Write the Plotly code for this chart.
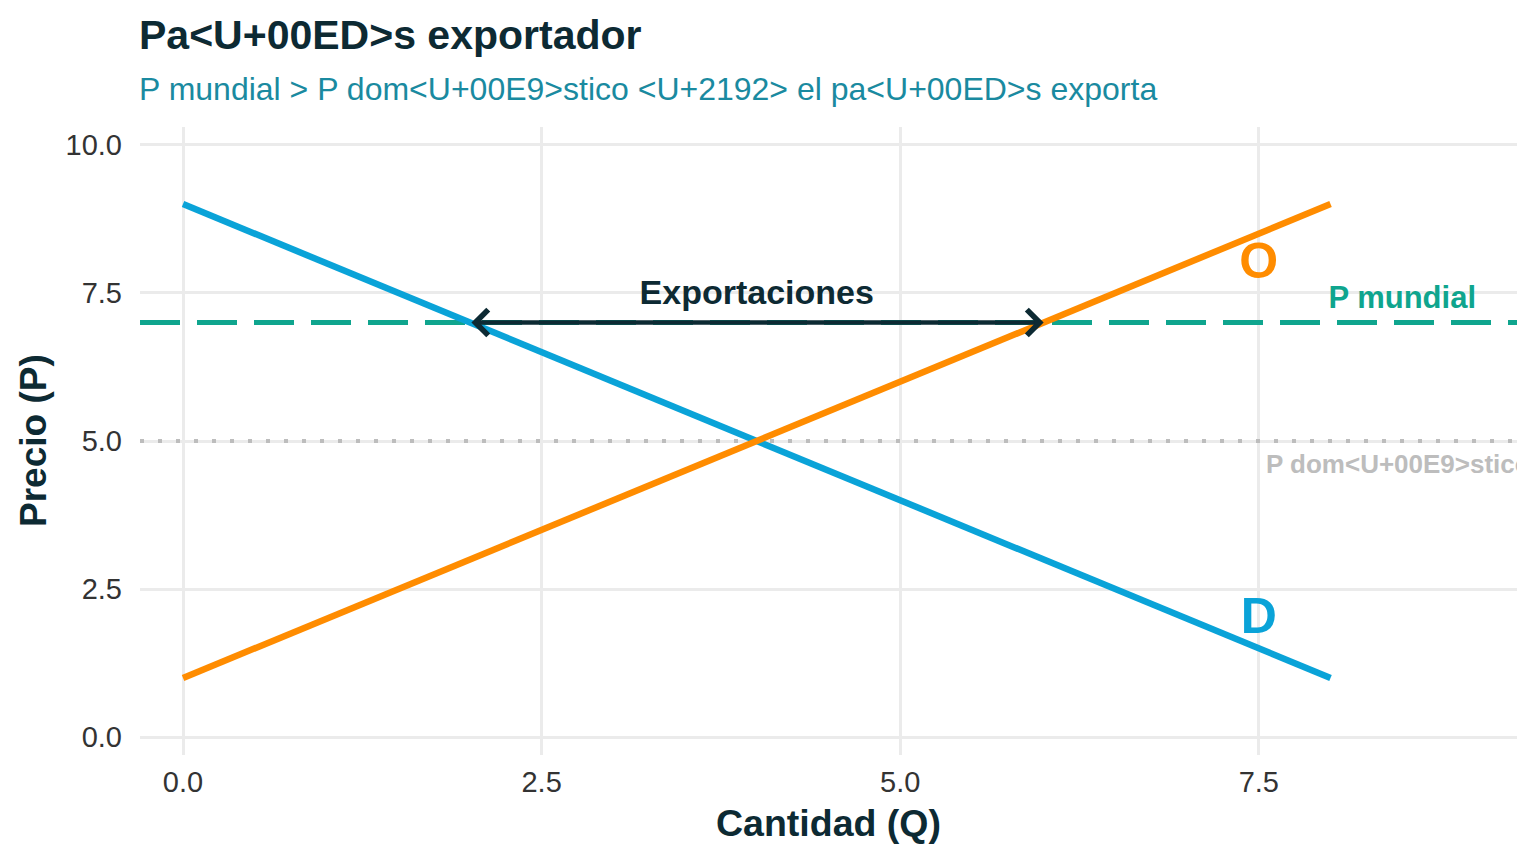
import plotly.graph_objects as go

# data
q_curve = [0, 8]
p_demand = [9, 1]
p_supply = [1, 9]
p_world = 7
p_domestic = 5
q_demand_world = 2
q_supply_world = 6

x_range = [-0.3, 9.3]
y_range = [-0.3, 10.3]
x_ticks = [0, 2.5, 5, 7.5]
x_ticklabels = ["0.0", "2.5", "5.0", "7.5"]
y_ticks = [0, 2.5, 5, 7.5, 10]
y_ticklabels = ["0.0", "2.5", "5.0", "7.5", "10.0"]

TEAL = "#0fa58e"
BLUE = "#0aa3d8"
ORANGE = "#ff8c00"
DARK = "#0d2a33"
GREY = "#bdbdbd"
FONT = "Liberation Sans"

fig = go.Figure()

# reference price lines (under the curves)
fig.add_trace(go.Scatter(x=x_range, y=[p_domestic, p_domestic], mode="lines",
                         line=dict(color=GREY, width=4, dash="4px,14px"),
                         hoverinfo="skip"))
fig.add_trace(go.Scatter(x=x_range, y=[p_world, p_world], mode="lines",
                         line=dict(color=TEAL, width=5, dash="40px,17px"),
                         hoverinfo="skip"))

# demand and supply
fig.add_trace(go.Scatter(x=q_curve, y=p_demand, mode="lines",
                         line=dict(color=BLUE, width=6.5), name="D"))
fig.add_trace(go.Scatter(x=q_curve, y=p_supply, mode="lines",
                         line=dict(color=ORANGE, width=6.5), name="O"))

# labels (scatter text so they are clipped by the panel)
fig.add_trace(go.Scatter(x=[7.5], y=[7.97], mode="text", text=["<b>O</b>"],
                         textfont=dict(color=ORANGE, size=50, family=FONT)))
fig.add_trace(go.Scatter(x=[7.5], y=[1.97], mode="text", text=["<b>D</b>"],
                         textfont=dict(color=BLUE, size=50, family=FONT)))
fig.add_trace(go.Scatter(x=[8.5], y=[7.37], mode="text", text=["<b>P mundial</b>"],
                         textfont=dict(color=TEAL, size=31, family=FONT)))
fig.add_trace(go.Scatter(x=[7.55], y=[4.57], mode="text",
                         text=["<b>P dom&lt;U+00E9&gt;stico</b>"],
                         textposition="middle right",
                         textfont=dict(color=GREY, size=26, family=FONT)))
fig.add_trace(go.Scatter(x=[(q_demand_world + q_supply_world) / 2], y=[7.46],
                         mode="text", text=["<b>Exportaciones</b>"],
                         textfont=dict(color=DARK, size=34, family=FONT)))

# exports arrow
fig.add_annotation(x=q_supply_world, y=p_world, ax=q_demand_world, ay=p_world,
                   xref="x", yref="y", axref="x", ayref="y", text="",
                   showarrow=True, arrowside="end+start",
                   arrowhead=4, startarrowhead=4,
                   arrowsize=1.1, startarrowsize=1.1,
                   arrowwidth=4.5, arrowcolor=DARK)

# title and subtitle
fig.add_annotation(text="<b>Pa&lt;U+00ED&gt;s exportador</b>",
                   xref="paper", yref="paper", x=0, y=1.1465, xshift=-3,
                   xanchor="left", yanchor="middle", showarrow=False,
                   font=dict(size=41, color=DARK, family=FONT))
fig.add_annotation(text="P mundial &gt; P dom&lt;U+00E9&gt;stico &lt;U+2192&gt; el pa&lt;U+00ED&gt;s exporta",
                   xref="paper", yref="paper", x=0, y=1.0605, xshift=-3,
                   xanchor="left", yanchor="middle", showarrow=False,
                   font=dict(size=32, color="#1a8aa0", family=FONT))

# axis titles
fig.add_annotation(text="<b>Cantidad (Q)</b>", xref="paper", yref="paper",
                   x=0.5, y=-0.108, xanchor="center", yanchor="middle",
                   showarrow=False, font=dict(size=37.5, color=DARK, family=FONT))
fig.add_annotation(text="<b>Precio (P)</b>", xref="paper", yref="paper",
                   x=-0.0777, y=0.5, xanchor="center", yanchor="middle",
                   textangle=-90, showarrow=False,
                   font=dict(size=37, color=DARK, family=FONT))

fig.update_layout(
    width=1528, height=856,
    paper_bgcolor="white", plot_bgcolor="white",
    showlegend=False,
    margin=dict(l=132, r=19, t=119, b=109),
    font=dict(family=FONT, color="#333333"),
)

fig.update_xaxes(
    range=x_range, tickvals=x_ticks, ticktext=x_ticklabels,
    showgrid=True, gridcolor="#ebebeb", gridwidth=2.5, zeroline=False,
    showline=False, ticks="", tickfont=dict(size=29, color="#333333"),
    ticklabelstandoff=7,
)
fig.update_yaxes(
    range=y_range, tickvals=y_ticks, ticktext=y_ticklabels,
    showgrid=True, gridcolor="#ebebeb", gridwidth=2.5, zeroline=False,
    showline=False, ticks="", tickfont=dict(size=29, color="#333333"),
    ticklabelstandoff=17,
)

fig.write_html("out.html")
